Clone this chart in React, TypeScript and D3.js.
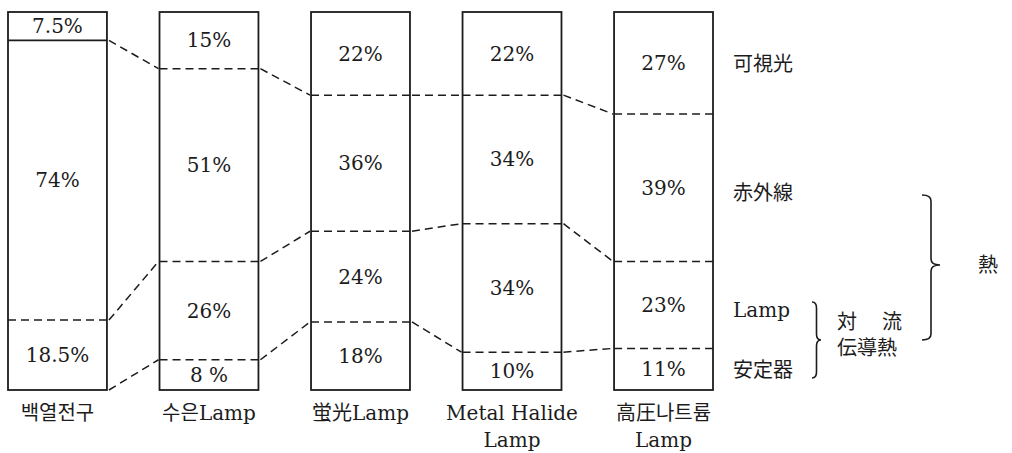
import React from 'react';
import * as d3 from 'd3';

// ---- data ----
const categories = ['백열전구', '수은Lamp', '蛍光Lamp', 'Metal Halide|Lamp', '高圧나트륨|Lamp'];
const visible = [7.5, 15, 22, 22, 27];
const infrared = [74, 51, 36, 34, 39];
const lampConv = [18.5, 26, 24, 34, 23];
const ballast = [0, 8, 18, 10, 11];
const seriesNames = ['可視光', '赤外線', 'Lamp', '安定器'];
const groupLabels = ['対　流', '伝導熱', '熱'];

const W = 1012;
const H = 453;
const INK = '#1c1c1c';
const LATIN = "'DejaVu Serif', 'Noto Sans CJK KR', serif";
const JP = "'DejaVu Serif', 'Noto Sans CJK JP', serif";

const fmt = (v: number) => (v === 8 ? '8 %' : `${v}%`);

function bracePath(x: number, y1: number, y2: number, ym: number, w: number) {
  const mx = x + w / 2;
  const r = Math.min(6, (y2 - y1) / 6);
  return [
    `M${x},${y1}`,
    `Q${mx},${y1} ${mx},${y1 + r}`,
    `L${mx},${ym - r}`,
    `Q${mx},${ym} ${x + w},${ym}`,
    `Q${mx},${ym} ${mx},${ym + r}`,
    `L${mx},${y2 - r}`,
    `Q${mx},${y2} ${x},${y2}`,
  ].join(' ');
}

export default function App() {
  const x = d3.scaleBand<number>().domain(d3.range(categories.length)).range([8, 713]).paddingInner(0.347).paddingOuter(0);
  const y = d3.scaleLinear().domain([0, 100]).range([12, 390]);
  const bw = x.bandwidth();

  const segs = categories.map((_, i) => {
    const vals = [visible[i], infrared[i], lampConv[i], ballast[i]];
    const cum = d3.cumsum(vals);
    return { vals, cum: Array.from(cum) };
  });

  // boundaries k = 0 (visible/IR), 1 (IR/lamp), 2 (lamp/ballast)
  const boundaries = [0, 1, 2];
  const dash = '8 5';
  const seriesY = [64, 193, 310, 370];

  return (
    <svg width={W} height={H} style={{ position: 'absolute', left: 0, top: 0, background: '#fff' }}>
      <rect x={0} y={0} width={W} height={H} fill="#fff" />
      {/* bars */}
      {categories.map((_, i) => (
        <rect key={`b${i}`} x={x(i)!} y={y(0)} width={bw} height={y(100) - y(0)} fill="none" stroke={INK} strokeWidth={1.8} />
      ))}
      {/* dividers inside bars */}
      {segs.map((s, i) =>
        boundaries.map((k) => {
          const v = s.cum[k];
          if (v >= 100) return null;
          const solid = i === 0 && k === 0;
          const x1 = x(i)!;
          const x2 = x(i)! + bw + (i === categories.length - 1 ? 4 : 0);
          return (
            <line key={`d${i}-${k}`} x1={x1} x2={x2} y1={y(v)} y2={y(v)} stroke={INK} strokeWidth={solid ? 1.8 : 1.5}
              strokeDasharray={solid ? undefined : dash} />
          );
        })
      )}
      {/* connectors between bars */}
      {segs.slice(0, -1).map((s, i) =>
        boundaries.map((k) => (
          <line key={`c${i}-${k}`} x1={x(i)! + bw + 2} y1={y(s.cum[k])} x2={x(i + 1)! - 1} y2={y(segs[i + 1].cum[k])}
            stroke={INK} strokeWidth={1.5} strokeDasharray={dash} />
        ))
      )}
      {/* value labels */}
      {segs.map((s, i) =>
        s.vals.map((v, j) => {
          if (v === 0) return null;
          const top = j === 0 ? 0 : s.cum[j - 1];
          const mid = (y(top) + y(s.cum[j])) / 2;
          return (
            <text key={`t${i}-${j}`} x={x(i)! + bw / 2} y={mid} textAnchor="middle" dominantBaseline="central"
              fontFamily={LATIN} fontSize={20} fill={INK}>{fmt(v)}</text>
          );
        })
      )}
      {/* category labels */}
      {categories.map((c, i) =>
        c.split('|').map((line, li) => (
          <text key={`l${i}-${li}`} x={x(i)! + bw / 2} y={413 + li * 27} textAnchor="middle" dominantBaseline="central"
            fontFamily={i === 0 || i === 1 ? LATIN : JP} fontSize={20} fill={INK}>{line}</text>
        ))
      )}
      {/* series names on the right */}
      {seriesNames.map((n, j) => (
        <text key={`s${j}`} x={733} y={seriesY[j]} dominantBaseline="central" fontFamily={JP} fontSize={20} fill={INK}>{n}</text>
      ))}
      {/* braces */}
      <path d={bracePath(812, 302, 378, 340, 9)} fill="none" stroke={INK} strokeWidth={1.6} />
      <path d={bracePath(922, 195, 340, 265, 18)} fill="none" stroke={INK} strokeWidth={1.6} />
      <text x={837} y={322} dominantBaseline="central" fontFamily={JP} fontSize={20} fill={INK} textLength={65} lengthAdjust="spacing">{groupLabels[0]}</text>
      <text x={837} y={348} dominantBaseline="central" fontFamily={JP} fontSize={20} fill={INK}>{groupLabels[1]}</text>
      <text x={978} y={265} dominantBaseline="central" fontFamily={JP} fontSize={20} fill={INK}>{groupLabels[2]}</text>
    </svg>
  );
}
